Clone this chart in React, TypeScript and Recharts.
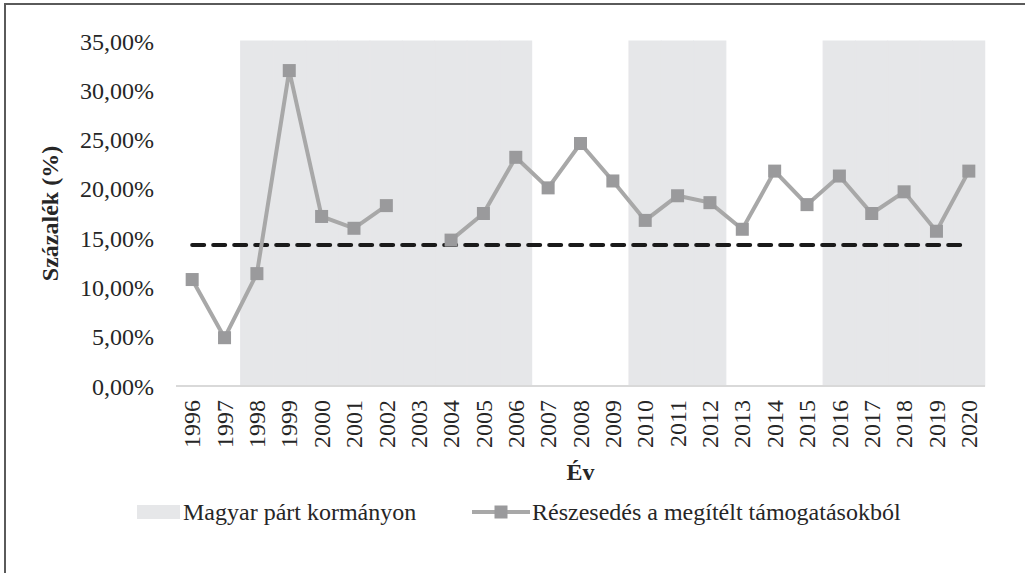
import React from "react";
import {
  Bar,
  ComposedChart,
  Legend,
  Line,
  XAxis,
  YAxis,
} from "recharts";

const years = [
  "1996", "1997", "1998", "1999", "2000", "2001", "2002", "2003", "2004",
  "2005", "2006", "2007", "2008", "2009", "2010", "2011", "2012", "2013",
  "2014", "2015", "2016", "2017", "2018", "2019", "2020",
];

// share of awarded grants (%), 2003 missing
const share = [
  10.8, 4.9, 11.4, 32.0, 17.2, 16.0, 18.3, null, 14.8, 17.5, 23.2, 20.1, 24.6,
  20.8, 16.8, 19.3, 18.6, 15.9, 21.8, 18.4, 21.3, 17.5, 19.7, 15.7, 21.8,
];

// 1 = Hungarian party in government
const inGovernment = [
  0, 0, 1, 1, 1, 1, 1, 1, 1, 1, 1, 0, 0, 0, 1, 1, 1, 0, 0, 0, 1, 1, 1, 1, 1,
];

const averageShare = 14.3;
const yTicks = [0, 5, 10, 15, 20, 25, 30, 35];

const BAND_NAME = "Magyar párt kormányon";
const LINE_NAME = "Részesedés a megítélt támogatásokból";

const FONT = "'Liberation Serif', 'Times New Roman', serif";
const TEXT = "#262626";
const BAND = "#e6e7e9";
const LINE = "#a8a8a8";
const MARKER = "#9a9a9c";

const data = years.map((year, i) => ({
  year,
  band: inGovernment[i] ? 35 : null,
  share: share[i],
  avg: averageShare,
}));

const fmtPct = (v: number) => `${v.toFixed(2).replace(".", ",")}%`;

function YearTick(props: any) {
  const { x, y, payload } = props;
  return (
    <text
      transform={`translate(${x},${y + 6}) rotate(-90)`}
      textAnchor="end"
      dy="0.34em"
      fontFamily={FONT}
      fontSize={24}
      fill={TEXT}
    >
      {payload.value}
    </text>
  );
}

function SquareDot(props: any) {
  const { cx, cy, value, index } = props;
  if (value == null || cy == null) return <g key={`d-${index}`} />;
  return (
    <rect
      key={`d-${index}`}
      x={cx - 6.5}
      y={cy - 6.5}
      width={13}
      height={13}
      fill={MARKER}
    />
  );
}

function renderLegend() {
  return (
    <div
      style={{
        position: "relative",
        width: 1025,
        height: 30,
        fontFamily: FONT,
        fontSize: 24,
        color: TEXT,
      }}
    >
      <div
        style={{
          position: "absolute",
          left: 137,
          top: 8,
          width: 43,
          height: 14,
          background: BAND,
        }}
      />
      <span style={{ position: "absolute", left: 183, top: 0, lineHeight: "30px", whiteSpace: "nowrap" }}>
        {BAND_NAME}
      </span>
      <svg style={{ position: "absolute", left: 472, top: 0 }} width={60} height={30}>
        <line x1={0} y1={15} x2={58} y2={15} stroke={LINE} strokeWidth={4} />
        <rect x={22.5} y={8.5} width={13} height={13} fill={MARKER} />
      </svg>
      <span style={{ position: "absolute", left: 532, top: 0, lineHeight: "30px", whiteSpace: "nowrap" }}>
        {LINE_NAME}
      </span>
    </div>
  );
}

export default function App() {
  return (
    <div
      style={{
        position: "absolute",
        left: 0,
        top: 0,
        width: 1025,
        height: 573,
        overflow: "hidden",
        background: "#fff",
      }}
    >
      <div
        style={{
          position: "absolute",
          left: 4,
          top: 3,
          width: 1040,
          height: 600,
          borderLeft: "2px solid #5a5a5a",
          borderTop: "2px solid #5a5a5a",
        }}
      />
      <ComposedChart
        width={1025}
        height={573}
        data={data}
        barCategoryGap={0}
        barGap={0}
        margin={{ top: 41, right: 40, bottom: 46, left: 0 }}
        style={{ position: "absolute", left: 0, top: 0 }}
      >
        <XAxis
          dataKey="year"
          interval={0}
          height={111}
          tickLine={false}
          axisLine={{ stroke: "#d9d9d9", strokeWidth: 2 }}
          tick={<YearTick />}
          label={(props: any) => {
            const vb = props.viewBox;
            return (
              <text
                x={vb.x + vb.width / 2}
                y={vb.y + 86}
                textAnchor="middle"
                dominantBaseline="central"
                fontFamily={FONT}
                fontSize={24}
                fontWeight="bold"
                fill={TEXT}
              >
                Év
              </text>
            );
          }}
        />
        <YAxis
          width={176}
          domain={[0, 35]}
          ticks={yTicks}
          tickFormatter={fmtPct}
          axisLine={false}
          tickLine={false}
          tickSize={0}
          tickMargin={22}
          tick={{ fontFamily: FONT, fontSize: 24, fill: TEXT }}
          label={(props: any) => {
            const vb = props.viewBox;
            const cx = vb.x + 50;
            const cy = vb.y + vb.height / 2;
            return (
              <text
                x={cx}
                y={cy}
                transform={`rotate(-90 ${cx} ${cy})`}
                textAnchor="middle"
                dominantBaseline="central"
                fontFamily={FONT}
                fontSize={24}
                fontWeight="bold"
                fill={TEXT}
              >
                Százalék (%)
              </text>
            );
          }}
        />
        <Legend
          verticalAlign="bottom"
          content={renderLegend}
          wrapperStyle={{ left: 0, width: 1025 }}
        />
        <Bar
          dataKey="band"
          name={BAND_NAME}
          fill={BAND}
          stroke={BAND}
          strokeWidth={1.2}
          isAnimationActive={false}
        />
        <Line
          dataKey="avg"
          legendType="none"
          stroke="#1a1a1a"
          strokeWidth={4}
          strokeDasharray="12 9"
          strokeLinecap="round"
          dot={false}
          activeDot={false}
          isAnimationActive={false}
        />
        <Line
          dataKey="share"
          name={LINE_NAME}
          stroke={LINE}
          strokeWidth={4}
          dot={<SquareDot />}
          activeDot={false}
          isAnimationActive={false}
        />
      </ComposedChart>
    </div>
  );
}
